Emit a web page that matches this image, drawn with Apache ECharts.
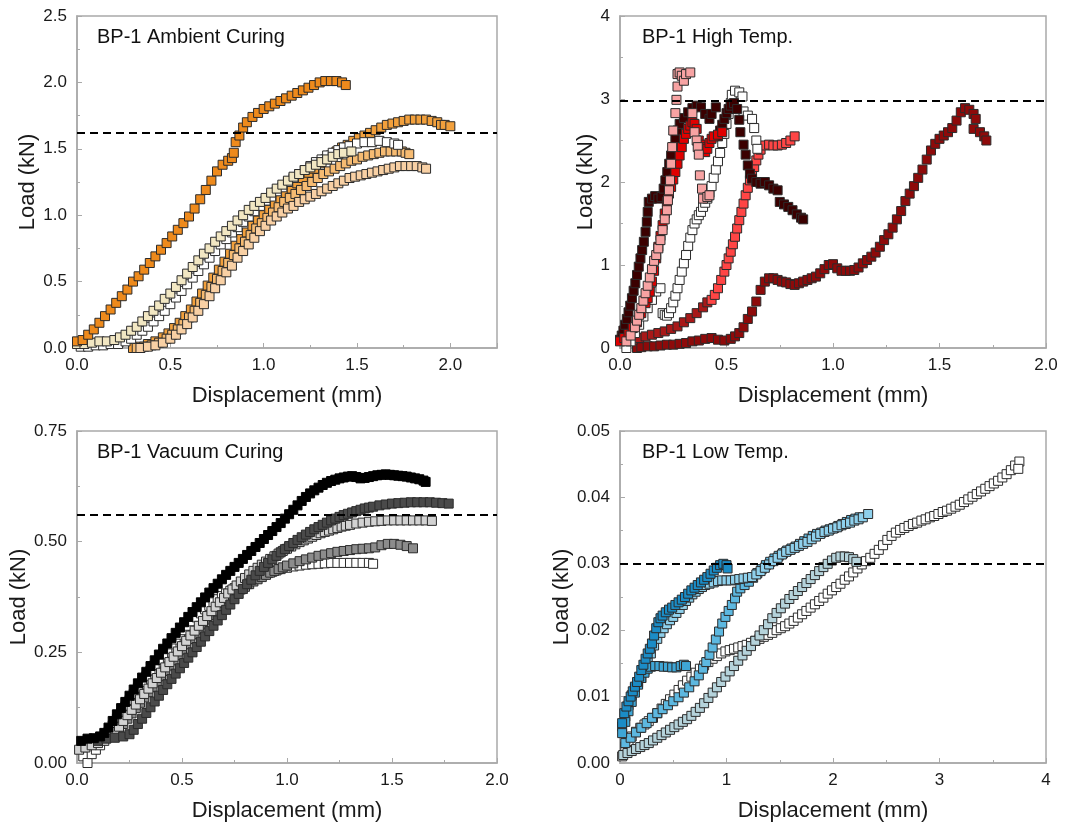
<!DOCTYPE html>
<html><head><meta charset="utf-8">
<script src="https://cdn.jsdelivr.net/npm/echarts@6/dist/echarts.min.js"></script>
<style>html,body{margin:0;padding:0;background:#fff}#c{width:1073px;height:831px}</style>
</head><body><div id="c"></div>
<script>
// ---------- texts & axes ----------
const panelTitles = ['BP-1 Ambient Curing', 'BP-1 High Temp.', 'BP-1 Vacuum Curing', 'BP-1 Low Temp.'];
const xTitle = 'Displacement (mm)';
const yTitle = 'Load (kN)';
const xMaxes = [2.25, 2, 2, 4];
const xIntervals = [0.5, 0.5, 0.5, 1];
const yMaxes = [2.5, 4, 0.75, 0.05];
const yIntervals = [0.5, 1, 0.25, 0.01];
const xDecimals = [1, 1, 1, 0];
const yDecimals = [1, 0, 2, 2];
const thresholds = [1.62, 2.98, 0.565, 0.031];

// ---------- Panel 1: Ambient curing ----------
const amb1 = [[0,0.05],[0.03,0.06],[0.06,0.1],[0.09,0.14],[0.12,0.19],[0.15,0.24],[0.18,0.29],[0.21,0.34],[0.24,0.39],[0.27,0.44],[0.3,0.5],[0.33,0.54],[0.36,0.59],[0.39,0.64],[0.42,0.69],[0.45,0.74],[0.48,0.79],[0.51,0.84],[0.54,0.89],[0.57,0.94],[0.6,0.99],[0.63,1.05],[0.66,1.12],[0.69,1.19],[0.72,1.26],[0.75,1.33],[0.78,1.38],[0.81,1.41],[0.83,1.43],[0.84,1.47],[0.85,1.55],[0.87,1.6],[0.89,1.66],[0.91,1.7],[0.94,1.74],[0.97,1.77],[1.0,1.8],[1.03,1.82],[1.06,1.84],[1.09,1.86],[1.12,1.88],[1.15,1.9],[1.18,1.92],[1.21,1.94],[1.24,1.96],[1.27,1.98],[1.3,2.0],[1.33,2.01],[1.36,2.01],[1.39,2.01],[1.42,2.0],[1.44,1.98]];
const amb2 = [[0.3,0],[0.34,0.01],[0.38,0.03],[0.42,0.05],[0.46,0.08],[0.49,0.11],[0.52,0.15],[0.55,0.19],[0.58,0.24],[0.61,0.29],[0.64,0.35],[0.67,0.41],[0.7,0.47],[0.73,0.53],[0.76,0.59],[0.79,0.65],[0.82,0.71],[0.85,0.77],[0.88,0.82],[0.91,0.87],[0.94,0.92],[0.97,0.96],[1.0,1.0],[1.03,1.04],[1.06,1.08],[1.09,1.12],[1.12,1.16],[1.15,1.2],[1.18,1.24],[1.21,1.28],[1.24,1.32],[1.27,1.35],[1.3,1.39],[1.33,1.42],[1.36,1.45],[1.39,1.48],[1.42,1.51],[1.45,1.53],[1.48,1.56],[1.51,1.58],[1.54,1.6],[1.57,1.62],[1.6,1.64],[1.63,1.66],[1.66,1.68],[1.69,1.69],[1.72,1.7],[1.75,1.71],[1.78,1.72],[1.81,1.72],[1.84,1.72],[1.87,1.72],[1.9,1.71],[1.93,1.7],[1.95,1.68],[1.97,1.68],[2.0,1.67]];
const amb3 = [[0.32,0],[0.36,0.01],[0.4,0.02],[0.44,0.04],[0.48,0.07],[0.51,0.1],[0.54,0.14],[0.57,0.18],[0.6,0.23],[0.63,0.28],[0.66,0.34],[0.69,0.4],[0.72,0.46],[0.75,0.52],[0.78,0.58],[0.81,0.64],[0.84,0.7],[0.87,0.75],[0.9,0.8],[0.93,0.85],[0.96,0.9],[0.99,0.94],[1.02,0.98],[1.05,1.02],[1.08,1.06],[1.11,1.1],[1.14,1.13],[1.17,1.16],[1.2,1.19],[1.23,1.22],[1.26,1.25],[1.29,1.28],[1.32,1.31],[1.35,1.33],[1.38,1.35],[1.41,1.37],[1.44,1.39],[1.47,1.41],[1.5,1.42],[1.53,1.44],[1.56,1.45],[1.59,1.46],[1.62,1.47],[1.65,1.48],[1.68,1.48],[1.71,1.48],[1.74,1.48],[1.76,1.47],[1.78,1.46]];
const amb4 = [[0.34,0],[0.38,0.01],[0.42,0.02],[0.46,0.04],[0.5,0.07],[0.53,0.1],[0.56,0.14],[0.59,0.18],[0.62,0.23],[0.65,0.28],[0.68,0.33],[0.71,0.39],[0.74,0.45],[0.77,0.51],[0.8,0.57],[0.83,0.62],[0.86,0.68],[0.89,0.73],[0.92,0.78],[0.95,0.83],[0.98,0.88],[1.01,0.92],[1.04,0.96],[1.07,0.99],[1.1,1.02],[1.13,1.05],[1.16,1.07],[1.19,1.1],[1.22,1.12],[1.25,1.14],[1.28,1.16],[1.31,1.18],[1.34,1.2],[1.37,1.22],[1.4,1.24],[1.43,1.26],[1.46,1.28],[1.49,1.29],[1.52,1.3],[1.55,1.31],[1.58,1.32],[1.61,1.33],[1.64,1.34],[1.67,1.35],[1.7,1.36],[1.73,1.37],[1.76,1.37],[1.79,1.37],[1.82,1.37],[1.85,1.36],[1.87,1.35]];
const ambWhite = [[0.02,0.01],[0.06,0.01],[0.1,0.02],[0.14,0.02],[0.18,0.03],[0.22,0.03],[0.26,0.05],[0.29,0.07],[0.32,0.1],[0.35,0.13],[0.38,0.16],[0.41,0.2],[0.44,0.24],[0.47,0.28],[0.5,0.33],[0.53,0.38],[0.56,0.43],[0.59,0.48],[0.62,0.53],[0.65,0.58],[0.68,0.63],[0.71,0.68],[0.74,0.73],[0.77,0.78],[0.8,0.82],[0.83,0.87],[0.86,0.91],[0.89,0.95],[0.92,0.99],[0.95,1.03],[0.98,1.07],[1.01,1.11],[1.04,1.14],[1.07,1.18],[1.1,1.21],[1.13,1.25],[1.16,1.28],[1.19,1.31],[1.22,1.34],[1.25,1.37],[1.28,1.4],[1.31,1.42],[1.34,1.45],[1.37,1.47],[1.4,1.49],[1.43,1.51],[1.46,1.52],[1.5,1.54],[1.54,1.55],[1.58,1.55],[1.62,1.56],[1.66,1.55],[1.7,1.54],[1.72,1.53]];
const ambCream = [[0,0.03],[0.04,0.03],[0.08,0.04],[0.12,0.05],[0.16,0.05],[0.2,0.06],[0.23,0.08],[0.26,0.1],[0.29,0.13],[0.32,0.16],[0.35,0.2],[0.38,0.24],[0.41,0.28],[0.44,0.32],[0.47,0.37],[0.5,0.41],[0.53,0.46],[0.56,0.51],[0.59,0.56],[0.62,0.61],[0.65,0.66],[0.68,0.71],[0.71,0.75],[0.74,0.8],[0.77,0.84],[0.8,0.88],[0.83,0.92],[0.86,0.96],[0.89,1.0],[0.92,1.04],[0.95,1.07],[0.98,1.1],[1.01,1.13],[1.04,1.17],[1.07,1.2],[1.1,1.23],[1.13,1.26],[1.16,1.29],[1.19,1.31],[1.22,1.34],[1.25,1.36],[1.28,1.38],[1.31,1.4],[1.34,1.42],[1.37,1.44],[1.4,1.46],[1.43,1.47],[1.47,1.48]];

// ---------- Panel 2: High temperature ----------
const hiDark = [[0,0.1],[0.008,0.15],[0.016,0.21],[0.024,0.28],[0.032,0.35],[0.04,0.43],[0.048,0.51],[0.056,0.6],[0.064,0.69],[0.072,0.78],[0.08,0.88],[0.088,0.98],[0.096,1.08],[0.104,1.18],[0.112,1.28],[0.12,1.4],[0.126,1.52],[0.13,1.64],[0.135,1.76],[0.15,1.8],[0.165,1.83],[0.18,1.8],[0.195,1.82],[0.205,1.92],[0.213,2.02],[0.222,2.12],[0.231,2.22],[0.24,2.32],[0.25,2.42],[0.26,2.52],[0.27,2.62],[0.28,2.7],[0.3,2.77],[0.32,2.84],[0.34,2.89],[0.36,2.92],[0.38,2.9],[0.4,2.82],[0.42,2.76],[0.43,2.82],[0.45,2.9],[0.46,2.55],[0.47,2.62],[0.48,2.69],[0.49,2.76],[0.5,2.83],[0.51,2.88],[0.52,2.92],[0.535,2.95],[0.55,2.88],[0.56,2.75],[0.565,2.6],[0.58,2.45],[0.59,2.33],[0.6,2.2],[0.61,2.1],[0.62,2.04],[0.64,2.0],[0.66,1.98],[0.68,2.0],[0.7,1.96],[0.72,1.92],[0.74,1.9],[0.75,1.76],[0.77,1.73],[0.79,1.7],[0.81,1.66],[0.83,1.61],[0.85,1.57],[0.86,1.55]];
const hiPink = [[0.03,0.08],[0.05,0.15],[0.07,0.25],[0.08,0.33],[0.09,0.4],[0.1,0.48],[0.11,0.57],[0.12,0.66],[0.13,0.75],[0.14,0.85],[0.15,0.95],[0.16,1.05],[0.17,1.12],[0.18,1.2],[0.19,1.3],[0.2,1.42],[0.21,1.55],[0.22,1.66],[0.225,1.78],[0.23,1.9],[0.235,2.02],[0.24,2.22],[0.245,2.42],[0.25,2.62],[0.26,2.83],[0.265,2.99],[0.27,3.15],[0.27,3.3],[0.28,3.32],[0.29,3.28],[0.3,3.22],[0.31,3.3],[0.33,3.32],[0.34,2.83],[0.35,2.6],[0.36,2.5],[0.365,2.42],[0.37,2.33],[0.375,2.08],[0.385,1.92],[0.39,1.8],[0.41,1.82],[0.42,1.84]];
const hiRed = [[0,0.08],[0.02,0.12],[0.04,0.17],[0.06,0.24],[0.08,0.31],[0.1,0.42],[0.12,0.54],[0.13,0.6],[0.14,0.68],[0.15,0.8],[0.16,0.93],[0.17,1.08],[0.18,1.22],[0.19,1.35],[0.2,1.48],[0.21,1.62],[0.22,1.76],[0.23,1.86],[0.24,1.94],[0.25,2.03],[0.26,2.12],[0.27,2.22],[0.28,2.32],[0.29,2.42],[0.3,2.52],[0.31,2.58],[0.32,2.64],[0.33,2.68],[0.34,2.72],[0.35,2.7],[0.36,2.64],[0.37,2.5],[0.38,2.45],[0.39,2.42],[0.4,2.36],[0.41,2.4],[0.42,2.47],[0.43,2.52],[0.44,2.55],[0.46,2.57],[0.48,2.6]];
const hiWhite = [[0.03,0.0],[0.05,0.08],[0.07,0.18],[0.09,0.28],[0.11,0.38],[0.13,0.48],[0.15,0.58],[0.17,0.68],[0.19,0.72],[0.2,0.42],[0.21,0.4],[0.22,0.39],[0.23,0.42],[0.24,0.48],[0.25,0.55],[0.26,0.63],[0.27,0.72],[0.28,0.82],[0.29,0.92],[0.3,1.02],[0.31,1.12],[0.32,1.23],[0.33,1.33],[0.34,1.42],[0.35,1.5],[0.36,1.55],[0.37,1.6],[0.38,1.64],[0.39,1.7],[0.4,1.75],[0.41,1.8],[0.42,1.87],[0.43,1.95],[0.44,2.05],[0.45,2.15],[0.46,2.25],[0.47,2.35],[0.48,2.47],[0.49,2.58],[0.5,2.7],[0.51,2.82],[0.52,2.95],[0.525,3.05],[0.54,3.1],[0.56,3.08],[0.575,3.03],[0.58,2.85],[0.6,2.8],[0.62,2.76],[0.63,2.65],[0.64,2.5],[0.645,2.4]];
const hiRedLow = [[0.03,0.08],[0.06,0.1],[0.09,0.12],[0.12,0.14],[0.15,0.16],[0.18,0.18],[0.21,0.2],[0.24,0.23],[0.27,0.26],[0.3,0.31],[0.33,0.36],[0.36,0.42],[0.39,0.49],[0.41,0.55]];
const hiRedHigh = [[0.43,0.58],[0.445,0.64],[0.46,0.72],[0.475,0.82],[0.49,0.92],[0.5,1.0],[0.51,1.08],[0.52,1.16],[0.53,1.25],[0.54,1.34],[0.55,1.44],[0.56,1.54],[0.57,1.64],[0.58,1.74],[0.59,1.84],[0.6,1.93],[0.61,2.02],[0.62,2.1],[0.63,2.18],[0.64,2.26],[0.65,2.33],[0.66,2.39],[0.68,2.44],[0.7,2.45],[0.72,2.44],[0.74,2.44],[0.76,2.45],[0.78,2.47],[0.8,2.5],[0.82,2.55]];
const hiMaroon = [[0.08,0.0],[0.1,0.01],[0.13,0.02],[0.16,0.02],[0.19,0.03],[0.22,0.04],[0.25,0.04],[0.28,0.05],[0.31,0.06],[0.34,0.08],[0.37,0.09],[0.4,0.11],[0.43,0.12],[0.46,0.1],[0.49,0.09],[0.52,0.11],[0.54,0.14],[0.56,0.18],[0.58,0.25],[0.6,0.35],[0.62,0.44],[0.64,0.56],[0.66,0.7],[0.68,0.8],[0.7,0.84],[0.72,0.84],[0.74,0.82],[0.76,0.8],[0.78,0.79],[0.8,0.77],[0.82,0.76],[0.84,0.78],[0.86,0.8],[0.88,0.82],[0.9,0.84],[0.92,0.86],[0.94,0.9],[0.96,0.95],[0.98,1.0],[1.0,1.01],[1.02,0.96],[1.04,0.93],[1.06,0.93],[1.08,0.93],[1.1,0.94],[1.12,0.97],[1.14,1.02],[1.16,1.06],[1.18,1.1],[1.2,1.15],[1.22,1.22],[1.24,1.3],[1.26,1.37],[1.28,1.45],[1.3,1.55],[1.32,1.65],[1.34,1.77],[1.36,1.86],[1.38,1.95],[1.4,2.05],[1.42,2.15],[1.44,2.27],[1.46,2.38],[1.48,2.46],[1.5,2.52],[1.52,2.56],[1.54,2.6],[1.56,2.65],[1.58,2.74],[1.6,2.84],[1.62,2.89],[1.64,2.87],[1.66,2.82],[1.67,2.76],[1.66,2.64],[1.69,2.6],[1.71,2.55],[1.72,2.5]];

// ---------- Panel 3: Vacuum curing ----------
const vacBlack = [[0.02,0.05],[0.05,0.055],[0.08,0.056],[0.11,0.06],[0.13,0.068],[0.15,0.08],[0.17,0.095],[0.19,0.11],[0.21,0.124],[0.23,0.138],[0.25,0.152],[0.27,0.166],[0.29,0.18],[0.31,0.193],[0.33,0.206],[0.35,0.219],[0.37,0.232],[0.39,0.245],[0.41,0.258],[0.43,0.27],[0.45,0.282],[0.47,0.294],[0.49,0.306],[0.51,0.318],[0.53,0.33],[0.55,0.341],[0.57,0.352],[0.59,0.363],[0.61,0.374],[0.63,0.385],[0.65,0.395],[0.67,0.405],[0.69,0.415],[0.71,0.425],[0.73,0.434],[0.75,0.443],[0.77,0.452],[0.79,0.461],[0.81,0.47],[0.83,0.479],[0.85,0.488],[0.87,0.497],[0.89,0.506],[0.91,0.515],[0.93,0.524],[0.95,0.533],[0.97,0.542],[0.99,0.552],[1.01,0.562],[1.03,0.572],[1.05,0.582],[1.07,0.592],[1.09,0.601],[1.11,0.609],[1.13,0.616],[1.15,0.622],[1.17,0.628],[1.19,0.633],[1.21,0.637],[1.23,0.64],[1.25,0.643],[1.27,0.645],[1.29,0.647],[1.31,0.648],[1.33,0.646],[1.35,0.643],[1.37,0.644],[1.39,0.646],[1.41,0.648],[1.43,0.65],[1.45,0.651],[1.47,0.652],[1.49,0.651],[1.51,0.65],[1.53,0.649],[1.55,0.648],[1.57,0.647],[1.59,0.645],[1.61,0.643],[1.63,0.641],[1.65,0.638],[1.66,0.635]];
const vacDark = [[0.1,0.05],[0.14,0.055],[0.18,0.057],[0.22,0.06],[0.25,0.065],[0.27,0.075],[0.29,0.088],[0.31,0.1],[0.33,0.113],[0.35,0.126],[0.37,0.139],[0.39,0.152],[0.41,0.165],[0.43,0.178],[0.45,0.19],[0.47,0.202],[0.49,0.214],[0.51,0.226],[0.53,0.238],[0.55,0.25],[0.57,0.262],[0.59,0.274],[0.61,0.286],[0.63,0.298],[0.65,0.31],[0.67,0.322],[0.69,0.334],[0.71,0.346],[0.73,0.358],[0.75,0.37],[0.77,0.382],[0.79,0.393],[0.81,0.404],[0.83,0.414],[0.85,0.424],[0.87,0.434],[0.89,0.443],[0.91,0.452],[0.93,0.46],[0.95,0.468],[0.97,0.476],[0.99,0.483],[1.01,0.49],[1.03,0.497],[1.05,0.504],[1.07,0.51],[1.09,0.516],[1.11,0.522],[1.13,0.528],[1.15,0.533],[1.17,0.538],[1.19,0.543],[1.21,0.548],[1.23,0.552],[1.25,0.556],[1.27,0.56],[1.29,0.563],[1.31,0.566],[1.33,0.569],[1.35,0.572],[1.37,0.575],[1.39,0.577],[1.41,0.579],[1.44,0.582],[1.47,0.584],[1.5,0.586],[1.53,0.587],[1.56,0.588],[1.59,0.589],[1.62,0.589],[1.65,0.589],[1.68,0.589],[1.71,0.588],[1.74,0.587],[1.77,0.586]];
const vacLight = [[0.01,0.03],[0.04,0.035],[0.07,0.04],[0.1,0.045],[0.13,0.05],[0.16,0.06],[0.18,0.07],[0.2,0.082],[0.22,0.095],[0.24,0.108],[0.26,0.12],[0.28,0.132],[0.3,0.144],[0.32,0.156],[0.34,0.168],[0.36,0.18],[0.38,0.192],[0.4,0.204],[0.42,0.216],[0.44,0.228],[0.46,0.24],[0.48,0.252],[0.5,0.264],[0.52,0.276],[0.54,0.288],[0.56,0.299],[0.58,0.31],[0.6,0.321],[0.62,0.332],[0.64,0.343],[0.66,0.353],[0.68,0.363],[0.7,0.373],[0.72,0.383],[0.74,0.392],[0.76,0.401],[0.78,0.41],[0.8,0.418],[0.82,0.426],[0.84,0.434],[0.86,0.441],[0.88,0.448],[0.9,0.455],[0.92,0.461],[0.94,0.467],[0.96,0.473],[0.98,0.479],[1.0,0.484],[1.02,0.489],[1.04,0.494],[1.06,0.499],[1.08,0.503],[1.1,0.507],[1.12,0.511],[1.14,0.515],[1.16,0.519],[1.18,0.522],[1.2,0.525],[1.22,0.528],[1.24,0.531],[1.26,0.534],[1.28,0.536],[1.3,0.538],[1.33,0.541],[1.36,0.543],[1.39,0.545],[1.42,0.546],[1.45,0.547],[1.48,0.548],[1.51,0.548],[1.54,0.548],[1.57,0.548],[1.6,0.548],[1.63,0.548],[1.66,0.548],[1.69,0.547]];
const vacMid = [[0.03,0.04],[0.06,0.045],[0.09,0.05],[0.12,0.055],[0.15,0.062],[0.18,0.07],[0.2,0.078],[0.22,0.088],[0.24,0.1],[0.26,0.112],[0.28,0.124],[0.3,0.136],[0.32,0.148],[0.34,0.16],[0.36,0.172],[0.38,0.184],[0.4,0.196],[0.42,0.208],[0.44,0.22],[0.46,0.232],[0.48,0.244],[0.5,0.256],[0.52,0.268],[0.54,0.28],[0.56,0.291],[0.58,0.302],[0.6,0.313],[0.62,0.324],[0.64,0.334],[0.66,0.344],[0.68,0.353],[0.7,0.362],[0.72,0.37],[0.74,0.378],[0.76,0.385],[0.78,0.392],[0.8,0.398],[0.82,0.404],[0.84,0.41],[0.86,0.415],[0.88,0.42],[0.9,0.425],[0.92,0.43],[0.94,0.434],[0.96,0.438],[0.98,0.442],[1.0,0.446],[1.03,0.451],[1.06,0.456],[1.09,0.46],[1.12,0.464],[1.15,0.468],[1.18,0.471],[1.21,0.474],[1.24,0.477],[1.27,0.479],[1.3,0.481],[1.33,0.483],[1.36,0.484],[1.39,0.485],[1.42,0.487],[1.45,0.492],[1.48,0.495],[1.51,0.495],[1.54,0.493],[1.57,0.49],[1.6,0.485]];
const vacWhite = [[0.03,0.015],[0.05,0.0],[0.07,0.02],[0.09,0.03],[0.11,0.04],[0.13,0.055],[0.15,0.07],[0.17,0.085],[0.19,0.1],[0.21,0.114],[0.23,0.128],[0.25,0.142],[0.27,0.156],[0.29,0.17],[0.31,0.183],[0.33,0.196],[0.35,0.209],[0.37,0.221],[0.39,0.233],[0.41,0.245],[0.43,0.257],[0.45,0.268],[0.47,0.279],[0.49,0.29],[0.51,0.3],[0.53,0.31],[0.55,0.32],[0.57,0.329],[0.59,0.338],[0.61,0.347],[0.63,0.355],[0.65,0.363],[0.67,0.37],[0.69,0.377],[0.71,0.383],[0.73,0.389],[0.75,0.395],[0.77,0.4],[0.79,0.405],[0.81,0.41],[0.83,0.414],[0.85,0.418],[0.87,0.422],[0.89,0.426],[0.91,0.429],[0.93,0.432],[0.95,0.435],[0.97,0.438],[1.0,0.441],[1.03,0.444],[1.06,0.446],[1.09,0.448],[1.12,0.449],[1.15,0.45],[1.18,0.451],[1.21,0.452],[1.24,0.452],[1.27,0.452],[1.3,0.452],[1.33,0.452],[1.36,0.452],[1.39,0.452],[1.41,0.45]];

// ---------- Panel 4: Low temperature ----------
const lowDark = [[0.02,0.006],[0.04,0.0075],[0.06,0.0085],[0.08,0.0093],[0.1,0.01],[0.12,0.0108],[0.14,0.0115],[0.16,0.0122],[0.18,0.013],[0.2,0.014],[0.22,0.0148],[0.24,0.0157],[0.26,0.0165],[0.28,0.0172],[0.3,0.018],[0.32,0.0192],[0.34,0.0203],[0.36,0.0212],[0.38,0.0218],[0.4,0.0222],[0.43,0.0227],[0.46,0.0231],[0.49,0.0234],[0.52,0.0238],[0.55,0.0242],[0.58,0.0246],[0.61,0.025],[0.64,0.0255],[0.67,0.026],[0.7,0.0264],[0.73,0.0268],[0.76,0.0272],[0.79,0.0276],[0.82,0.028],[0.85,0.0285],[0.88,0.029],[0.91,0.0294],[0.94,0.0298],[0.97,0.03],[1.0,0.0298],[1.01,0.0293]];
const lowBlue = [[0.02,0.0045],[0.05,0.0062],[0.08,0.0078],[0.11,0.0092],[0.14,0.0106],[0.17,0.0118],[0.2,0.0128],[0.23,0.0136],[0.26,0.0142],[0.29,0.0145],[0.33,0.0146],[0.37,0.0146],[0.41,0.0145],[0.45,0.0145],[0.49,0.0144],[0.53,0.0144],[0.57,0.0146],[0.6,0.0148],[0.62,0.0146]];
const lowMid = [[0.05,0.003],[0.1,0.0038],[0.15,0.0046],[0.2,0.0053],[0.25,0.006],[0.3,0.0068],[0.35,0.0075],[0.4,0.0081],[0.45,0.0087],[0.5,0.0093],[0.55,0.0099],[0.6,0.0106],[0.65,0.0114],[0.7,0.0123],[0.74,0.0132],[0.78,0.0142],[0.81,0.0152],[0.84,0.0163],[0.87,0.0174],[0.9,0.0186],[0.93,0.0198],[0.96,0.021],[0.99,0.022],[1.02,0.0229],[1.05,0.0238],[1.08,0.0248],[1.1,0.0258],[1.13,0.0263],[1.17,0.0268],[1.21,0.0273],[1.25,0.0279],[1.29,0.0286],[1.33,0.0292],[1.37,0.0298],[1.41,0.0303],[1.45,0.0308],[1.49,0.0312],[1.53,0.0316],[1.57,0.032],[1.61,0.0323],[1.65,0.0326],[1.69,0.033],[1.73,0.0334],[1.77,0.0338],[1.81,0.0342],[1.85,0.0345],[1.89,0.0347],[1.93,0.035],[1.97,0.0352],[2.01,0.0354],[2.05,0.0357],[2.09,0.036],[2.13,0.0363],[2.17,0.0366],[2.21,0.0368],[2.25,0.037]];
const lowLight = [[0.02,0.0055],[0.05,0.007],[0.08,0.0087],[0.11,0.0102],[0.14,0.0113],[0.17,0.0121],[0.2,0.0128],[0.23,0.0139],[0.26,0.0152],[0.29,0.0165],[0.32,0.0177],[0.35,0.0187],[0.38,0.0196],[0.41,0.0203],[0.44,0.0209],[0.47,0.0215],[0.5,0.022],[0.53,0.0226],[0.56,0.0232],[0.59,0.0238],[0.62,0.0244],[0.65,0.0249],[0.68,0.0254],[0.71,0.0258],[0.74,0.0262],[0.77,0.0265],[0.8,0.0268],[0.84,0.027],[0.88,0.0272],[0.92,0.0274],[0.96,0.0275],[1.0,0.0275],[1.04,0.0275],[1.08,0.0276],[1.12,0.0277],[1.16,0.0278],[1.2,0.0279],[1.24,0.028],[1.28,0.0284],[1.32,0.0289],[1.36,0.0294],[1.4,0.0299],[1.44,0.0304],[1.48,0.0309],[1.52,0.0314],[1.56,0.0318],[1.6,0.0321],[1.64,0.0324],[1.68,0.0327],[1.72,0.033],[1.76,0.0333],[1.8,0.0337],[1.84,0.0341],[1.88,0.0345],[1.92,0.0348],[1.96,0.035],[2.0,0.0353],[2.04,0.0355],[2.08,0.0358],[2.12,0.036],[2.16,0.0362],[2.2,0.0365],[2.24,0.0367],[2.28,0.037],[2.33,0.0375]];
const lowTeal = [[0.03,0.0012],[0.07,0.0015],[0.11,0.0018],[0.15,0.0021],[0.19,0.0024],[0.23,0.0027],[0.27,0.003],[0.31,0.0034],[0.35,0.0038],[0.39,0.0042],[0.43,0.0046],[0.47,0.005],[0.51,0.0054],[0.55,0.0058],[0.59,0.0062],[0.63,0.0066],[0.67,0.0071],[0.71,0.0077],[0.75,0.0083],[0.79,0.009],[0.83,0.0098],[0.87,0.0106],[0.91,0.0114],[0.95,0.0122],[0.99,0.013],[1.03,0.0138],[1.07,0.0146],[1.11,0.0154],[1.15,0.0162],[1.19,0.0169],[1.23,0.0176],[1.27,0.0184],[1.31,0.0192],[1.35,0.02],[1.39,0.0209],[1.43,0.0218],[1.47,0.0226],[1.51,0.0233],[1.55,0.024],[1.59,0.0247],[1.63,0.0253],[1.67,0.0259],[1.71,0.0265],[1.75,0.0271],[1.79,0.0277],[1.83,0.0283],[1.87,0.0289],[1.91,0.0295],[1.95,0.03],[1.99,0.0305],[2.03,0.0309],[2.07,0.0311],[2.11,0.0311],[2.15,0.031],[2.19,0.0307],[2.22,0.0303]];
const lowWhite = [[0.02,0.001],[0.05,0.0025],[0.08,0.0033],[0.11,0.004],[0.15,0.0047],[0.19,0.0053],[0.23,0.0058],[0.27,0.0063],[0.31,0.0068],[0.35,0.0075],[0.39,0.0082],[0.43,0.0089],[0.47,0.0096],[0.51,0.0103],[0.55,0.011],[0.59,0.0117],[0.63,0.0124],[0.67,0.013],[0.71,0.0136],[0.75,0.0142],[0.79,0.0147],[0.83,0.0152],[0.87,0.0157],[0.91,0.0161],[0.95,0.0165],[0.99,0.0168],[1.03,0.017],[1.07,0.0172],[1.11,0.0174],[1.15,0.0176],[1.19,0.0178],[1.23,0.0181],[1.27,0.0184],[1.31,0.0187],[1.35,0.019],[1.39,0.0193],[1.43,0.0196],[1.47,0.02],[1.51,0.0203],[1.55,0.0206],[1.59,0.021],[1.63,0.0214],[1.67,0.0219],[1.71,0.0224],[1.75,0.0229],[1.79,0.0234],[1.83,0.0239],[1.87,0.0244],[1.91,0.0249],[1.95,0.0255],[1.99,0.026],[2.03,0.0265],[2.07,0.027],[2.11,0.0276],[2.15,0.0281],[2.19,0.0287],[2.23,0.0293],[2.27,0.0299],[2.31,0.0304],[2.35,0.0309],[2.39,0.0315],[2.43,0.0321],[2.47,0.0328],[2.51,0.0336],[2.55,0.0342],[2.59,0.0347],[2.63,0.0351],[2.67,0.0354],[2.71,0.0357],[2.75,0.036],[2.79,0.0362],[2.83,0.0365],[2.87,0.0367],[2.91,0.037],[2.95,0.0372],[2.99,0.0375],[3.03,0.0378],[3.07,0.038],[3.11,0.0383],[3.15,0.0386],[3.19,0.0389],[3.23,0.0393],[3.27,0.0397],[3.31,0.0401],[3.35,0.0405],[3.39,0.0409],[3.43,0.0413],[3.47,0.0417],[3.51,0.0421],[3.55,0.0425],[3.59,0.043],[3.63,0.0435],[3.67,0.0441],[3.71,0.0448],[3.75,0.0454],[3.74,0.0443]];

// ---------- series per panel (draw order) ----------
const panelData = [
  [amb2, amb3, amb4, ambWhite, ambCream, amb1],
  [hiMaroon, hiRedLow, hiRedHigh, hiWhite, hiDark, hiRed, hiPink],
  [vacWhite, vacMid, vacLight, vacDark, vacBlack],
  [lowWhite, lowTeal, lowMid, lowLight, lowBlue, lowDark]
];
const panelColors = [
  ['#F2A03C', '#F6BB72', '#F8D0A4', '#FFFFFF', '#F2E7C3', '#EE8A1C'],
  ['#8E0A0A', '#A81818', '#FF4545', '#FFFFFF', '#3B0000', '#E00000', '#F7A3A3'],
  ['#FFFFFF', '#8C8C8C', '#D2D2D2', '#4A4A4A', '#000000'],
  ['#FFFFFF', '#B5D3DB', '#5DB8E0', '#8ED0EC', '#3FA6D6', '#1B8CC6']
];

const font = 'Liberation Sans, Arial, sans-serif';
const gridBoxes = [
  {left: 77, top: 16, width: 420, height: 332},
  {left: 620, top: 16, width: 426, height: 332},
  {left: 77, top: 431, width: 420, height: 332},
  {left: 620, top: 431, width: 426, height: 332}
];
const yNameGaps = [38, 23, 46, 47];
const titlePos = [[97, 27], [642, 27], [97, 442], [642, 442]];
const axisGray = '#a9a9a9';

const option = {
  animation: false,
  backgroundColor: '#ffffff',
  title: panelTitles.map((t, i) => ({
    text: t, left: titlePos[i][0], top: titlePos[i][1], padding: 0,
    textStyle: {fontSize: 20, fontWeight: 'normal', color: '#111', fontFamily: font}
  })),
  grid: gridBoxes.map(g => Object.assign({show: true, borderColor: axisGray, borderWidth: 1.5, backgroundColor: 'transparent', containLabel: false}, g)),
  xAxis: [0, 1, 2, 3].map(i => ({
    type: 'value', gridIndex: i, min: 0, max: xMaxes[i], interval: xIntervals[i],
    name: xTitle, nameLocation: 'middle', nameGap: 37,
    nameTextStyle: {fontSize: 22, color: '#1a1a1a', fontFamily: font},
    axisLine: {show: true, lineStyle: {color: axisGray, width: 1.5}},
    axisTick: {show: true, inside: true, length: 5, lineStyle: {color: axisGray, width: 1}},
    minorTick: {show: true, splitNumber: 2, length: 3, lineStyle: {color: axisGray, width: 1}},
    splitLine: {show: false},
    axisLabel: {color: '#1a1a1a', fontSize: 17, fontFamily: font, margin: 9, showMaxLabel: i !== 0,
      formatter: v => Number(v).toFixed(xDecimals[i])}
  })),
  yAxis: [0, 1, 2, 3].map(i => ({
    type: 'value', gridIndex: i, min: 0, max: yMaxes[i], interval: yIntervals[i],
    name: yTitle, nameLocation: 'middle', nameGap: yNameGaps[i], nameRotate: 90,
    nameTextStyle: {fontSize: 22, color: '#1a1a1a', fontFamily: font},
    axisLine: {show: true, lineStyle: {color: axisGray, width: 1.5}},
    axisTick: {show: true, inside: true, length: 5, lineStyle: {color: axisGray, width: 1}},
    minorTick: {show: true, splitNumber: 2, length: 3, lineStyle: {color: axisGray, width: 1}},
    splitLine: {show: false},
    axisLabel: {color: '#1a1a1a', fontSize: 17, fontFamily: font, margin: 10,
      formatter: v => Number(v).toFixed(yDecimals[i])}
  })),
  series: []
};

panelData.forEach((list, p) => {
  list.forEach((data, k) => {
    const isLast = k === list.length - 1;
    const s = {
      type: 'scatter', xAxisIndex: p, yAxisIndex: p, data: data,
      symbol: 'rect', symbolSize: 9, silent: true,
      itemStyle: {color: panelColors[p][k], borderColor: panelColors[p][k] === '#000000' ? '#000' : '#2b2b2b', borderWidth: 1, opacity: 1}
    };
    if (isLast) {
      s.markLine = {
        silent: true, symbol: ['none', 'none'], label: {show: false}, animation: false, z: 10,
        lineStyle: {color: '#000', type: [8, 5], width: 2},
        data: [{yAxis: thresholds[p]}]
      };
    }
    option.series.push(s);
  });
});

const chart = echarts.init(document.getElementById('c'), null, {renderer: 'canvas'});
chart.setOption(option);
</script>
</body></html>
